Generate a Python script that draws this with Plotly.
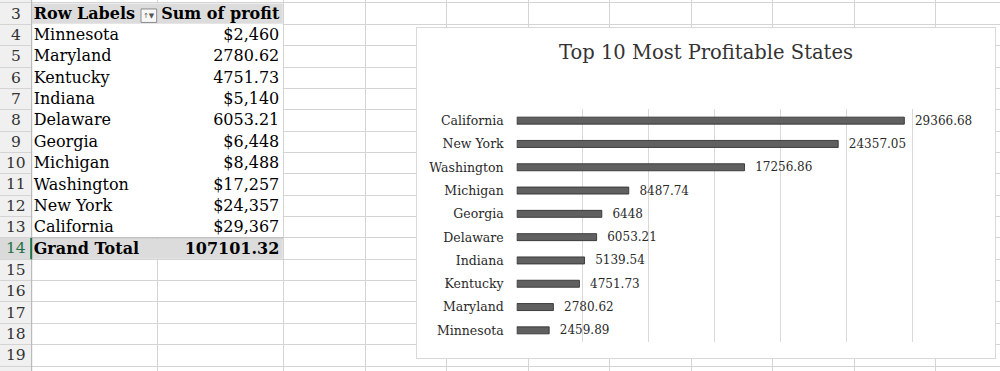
import plotly.graph_objects as go

# ---------------- data ----------------
states = ["Minnesota", "Maryland", "Kentucky", "Indiana", "Delaware",
          "Georgia", "Michigan", "Washington", "New York", "California"]
profit = [2459.89, 2780.62, 4751.73, 5139.54, 6053.21,
          6448.00, 8487.74, 17256.86, 24357.05, 29366.68]
# how each value is displayed in the pivot table (currency format or raw)
currency_shown = [True, False, False, True, False, True, True, True, True, True]
row_numbers = list(range(3, 20))
header_labels = ["Row Labels", "Sum of profit"]
total_label = "Grand Total"
chart_title = "Top 10 Most Profitable States"
x_max = 35000
x_step = 5000
selected_row = 14


def plain(v):
    return f"{v:.2f}".rstrip("0").rstrip(".")


def table_fmt(v, cur):
    return f"${v:,.0f}" if cur else plain(v)


total = round(sum(profit), 2)

# ---------------- layout constants (pixels) ----------------
W, H = 1000, 371
SERIF = "DejaVu Serif"
ROW_TOP, ROW_H = 2.95, 21.36
TEXT_DY = 1.0
col_edges = [0, 31.7, 157.7, 283.3, 365, 446.5, 528, 609.5, 691, 772.5, 854, 935.5]
row_edges = [ROW_TOP + k * ROW_H for k in range(len(row_numbers) + 1)]
CHART_BOX = (417, 28, 995, 358)        # x0, y0, x1, y1
PLOT_AREA = (516.7, 109, 978.7, 342)
GRID = "#d4d4d4"
GREEN = "#1e7145"


def row_center(r):
    return ROW_TOP + (r - row_numbers[0] + 0.5) * ROW_H + TEXT_DY


def top(r):
    return ROW_TOP + (r - row_numbers[0]) * ROW_H


fig = go.Figure()

# ---------------- spreadsheet texts (subplot x/y in pixel units) ----------------
fig.add_trace(go.Scatter(
    x=[(col_edges[0] + col_edges[1]) / 2] * len(row_numbers),
    y=[row_center(r) for r in row_numbers],
    mode="text", text=[str(r) for r in row_numbers], textposition="middle center",
    textfont=dict(family=SERIF, size=15.5,
                  color=[GREEN if r == selected_row else "#333333" for r in row_numbers]),
    hoverinfo="skip", showlegend=False))

pivot_rows = row_numbers[:len(states) + 2]
colA = [f"<b>{header_labels[0]}</b>"] + states + [f"<b>{total_label}</b>"]
colB = ([f"<b>{header_labels[1]}</b>"]
        + [table_fmt(v, c) for v, c in zip(profit, currency_shown)]
        + [f"<b>{total:.2f}</b>"])

fig.add_trace(go.Scatter(
    x=[col_edges[1] + 2] * len(pivot_rows), y=[row_center(r) for r in pivot_rows],
    mode="text", text=colA, textposition="middle right",
    textfont=dict(family=SERIF, size=16, color="#000000"),
    hoverinfo="skip", showlegend=False))
fig.add_trace(go.Scatter(
    x=[col_edges[3] - 4] * len(pivot_rows), y=[row_center(r) for r in pivot_rows],
    mode="text", text=colB, textposition="middle left",
    textfont=dict(family=SERIF, size=16, color="#000000"),
    hoverinfo="skip", showlegend=False))

# ---------------- chart box subplot (x2/y2) ----------------
fig.add_trace(go.Scatter(x=[], y=[], xaxis="x2", yaxis="y2",
                         hoverinfo="skip", showlegend=False))

# ---------------- bar chart (x3/y3) ----------------
labels = ["\u00a0\u00a0" + plain(v) for v in profit]
fig.add_trace(go.Bar(
    y=states, x=profit, orientation="h", xaxis="x3", yaxis="y3",
    marker=dict(color="#606060", line=dict(color="#333333", width=0.9)),
    text=labels, textposition="outside", constraintext="none", cliponaxis=False,
    textfont=dict(family=SERIF, size=12, color="#2a2a2a"),
    hoverinfo="skip", showlegend=False))

# ---------------- shapes (cell fills / borders) ----------------
shapes = []
A0, B1 = col_edges[1], col_edges[3]
# row-number column background (below gridlines)
shapes.append(dict(type="rect", xref="x", yref="y", layer="below",
                   x0=0, x1=col_edges[1], y0=0, y1=H,
                   fillcolor="#f0f0f0", line=dict(width=0)))
shapes.append(dict(type="rect", xref="x", yref="y", layer="below",
                   x0=0, x1=col_edges[1], y0=top(selected_row), y1=top(selected_row) + ROW_H,
                   fillcolor="#dadada", line=dict(width=0)))
# pivot body white (hides gridlines)
shapes.append(dict(type="rect", xref="x", yref="y", layer="between",
                   x0=A0 + 0.5, x1=B1 - 0.5, y0=top(4) - 0.5, y1=top(14) - 0.5,
                   fillcolor="#ffffff", line=dict(width=0)))
# header and grand total fills
for r in (3, 14):
    shapes.append(dict(type="rect", xref="x", yref="y", layer="between",
                       x0=A0 + 0.5, x1=B1 - 0.5, y0=top(r) + 0.5, y1=top(r) + ROW_H - 0.5,
                       fillcolor="#dcdcdc", line=dict(width=0)))
shapes.append(dict(type="line", xref="x", yref="y", layer="between",
                   x0=A0, x1=B1, y0=top(14), y1=top(14),
                   line=dict(color="#a8a8a8", width=1)))
# row header border
shapes.append(dict(type="line", xref="x", yref="y", layer="between",
                   x0=col_edges[1], x1=col_edges[1], y0=0, y1=H,
                   line=dict(color="#b4b4b4", width=1)))
shapes.append(dict(type="line", xref="x", yref="y", layer="between",
                   x0=col_edges[1] - 0.5, x1=col_edges[1] - 0.5,
                   y0=top(selected_row), y1=top(selected_row) + ROW_H,
                   line=dict(color=GREEN, width=2)))
# filter button in header
shapes.append(dict(type="rect", xref="x", yref="y", layer="between",
                   x0=141, x1=156.7, y0=top(3) + 6, y1=top(3) + 19.5,
                   fillcolor="#f7f7f7", line=dict(color="#8c8c8c", width=1)))

annotations = [
    dict(text="↑▼", x=(141 + 156.7) / 2, y=top(3) + 12.8, xref="x", yref="y",
         showarrow=False, font=dict(family="DejaVu Sans", size=7, color="#555555")),
    dict(text=chart_title, x=(CHART_BOX[0] + CHART_BOX[2]) / 2 / W, y=1 - 53 / H,
         xref="paper", yref="paper", xanchor="center", yanchor="middle",
         showarrow=False, font=dict(family=SERIF, size=19.5, color="#333333")),
]

fig.update_layout(
    width=W, height=H, autosize=False,
    margin=dict(l=0, r=0, t=0, b=0, pad=0),
    paper_bgcolor="#ffffff", plot_bgcolor="#ffffff",
    bargap=0.7,
    shapes=shapes, annotations=annotations,
    xaxis=dict(domain=[0, 1], range=[0, W], showgrid=True, gridcolor=GRID, gridwidth=1,
               tickmode="array", tickvals=col_edges[1:], zeroline=False,
               showticklabels=False, ticks="", showline=False, fixedrange=True),
    yaxis=dict(domain=[0, 1], range=[H, 0], showgrid=True, gridcolor=GRID, gridwidth=1,
               tickmode="array", tickvals=row_edges, zeroline=False,
               showticklabels=False, ticks="", showline=False, fixedrange=True),
    xaxis2=dict(domain=[CHART_BOX[0] / W, CHART_BOX[2] / W], anchor="y2", range=[0, 1],
                showgrid=False, zeroline=False, showticklabels=False, ticks="",
                showline=True, mirror=True, linecolor="#d9d9d9", linewidth=1,
                fixedrange=True),
    yaxis2=dict(domain=[1 - CHART_BOX[3] / H, 1 - CHART_BOX[1] / H], anchor="x2",
                range=[0, 1], showgrid=False, zeroline=False, showticklabels=False,
                ticks="", showline=True, mirror=True, linecolor="#d9d9d9", linewidth=1,
                fixedrange=True),
    xaxis3=dict(domain=[PLOT_AREA[0] / W, PLOT_AREA[2] / W], anchor="y3",
                range=[0, x_max], tick0=0, dtick=x_step, showgrid=True,
                gridcolor="#d9d9d9", gridwidth=1, zeroline=False,
                showticklabels=False, ticks="", showline=False, fixedrange=True),
    yaxis3=dict(domain=[1 - PLOT_AREA[3] / H, 1 - PLOT_AREA[1] / H], anchor="x3",
                type="category", showgrid=False, zeroline=False, showline=False,
                ticks="", ticklabelstandoff=12,
                tickfont=dict(family=SERIF, size=12.5, color="#2a2a2a"),
                fixedrange=True),
)

fig.write_html("out.html", config={"displayModeBar": False},
               post_script="document.body.style.margin='0';document.body.style.overflow='hidden';")
